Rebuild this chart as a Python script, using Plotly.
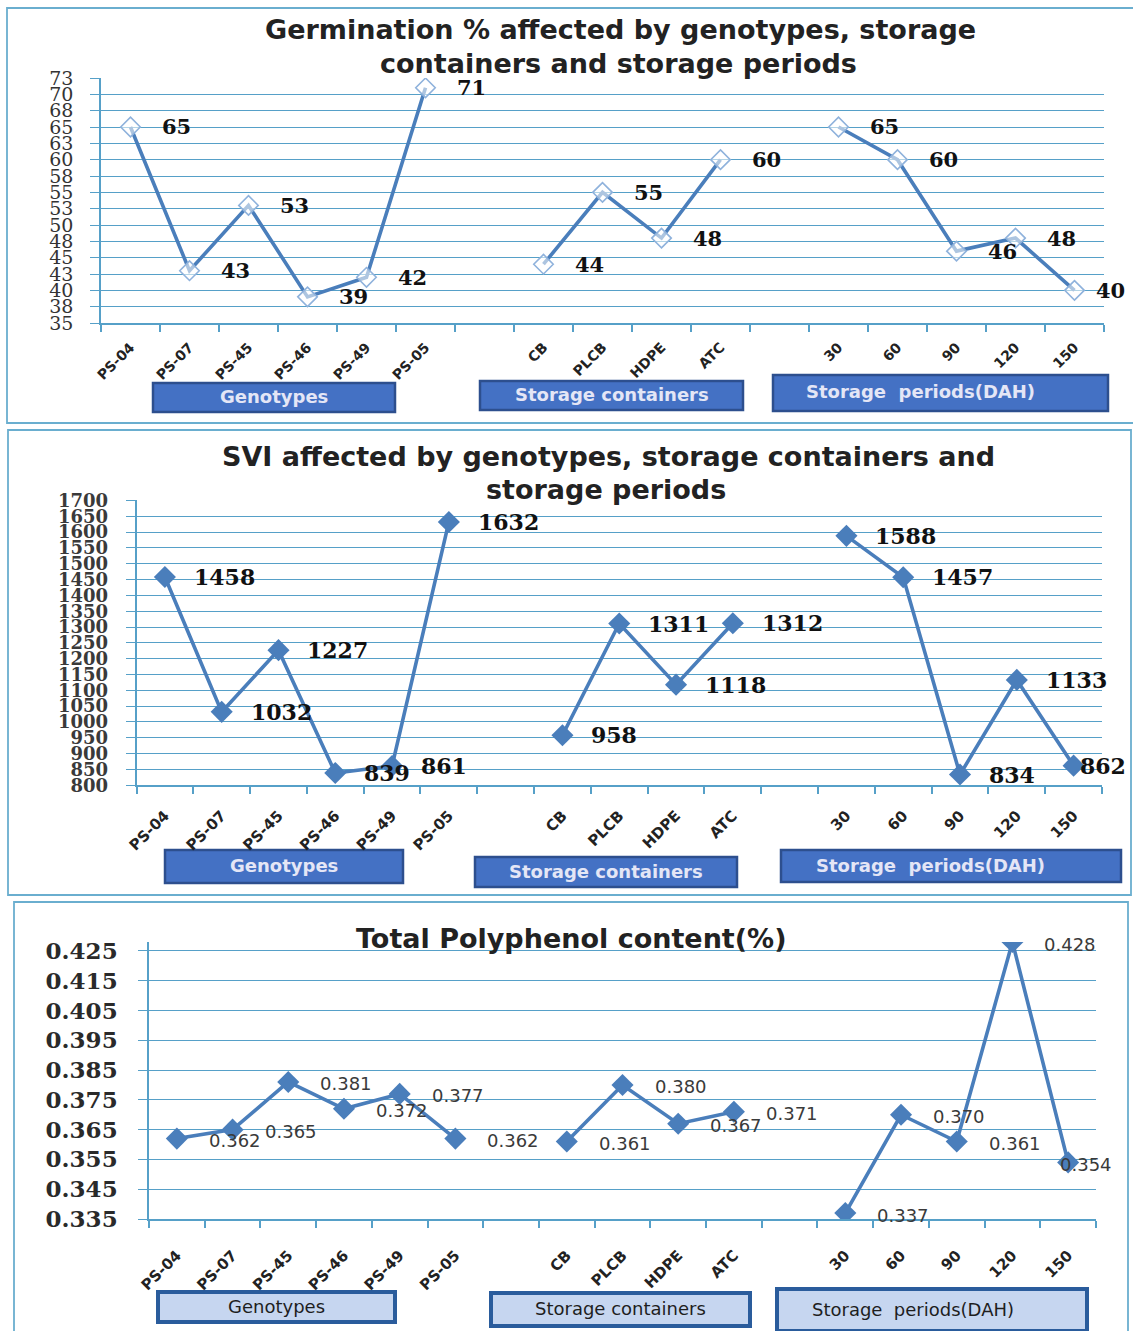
import plotly.graph_objects as go

W, H = 1133, 1331

# ---------------- data ----------------
genotypes = ["PS-04", "PS-07", "PS-45", "PS-46", "PS-49", "PS-05"]
containers = ["CB", "PLCB", "HDPE", "ATC"]
periods = ["30", "60", "90", "120", "150"]

germ_genotypes = [65, 43, 53, 39, 42, 71]
germ_containers = [44, 55, 48, 60]
germ_periods = [65, 60, 46, 48, 40]

svi_genotypes = [1458, 1032, 1227, 839, 861, 1632]
svi_containers = [958, 1311, 1118, 1312]
svi_periods = [1588, 1457, 834, 1133, 862]

tpc_genotypes = [0.362, 0.365, 0.381, 0.372, 0.377, 0.362]
tpc_containers = [0.361, 0.380, 0.367, 0.371]
tpc_periods = [0.337, 0.370, 0.361, 0.428, 0.354]

germ_tickvals = [35, 37.5, 40, 42.5, 45, 47.5, 50, 52.5, 55, 57.5, 60, 62.5, 65, 67.5, 70, 72.5]
germ_ticktext = ["35", "38", "40", "43", "45", "48", "50", "53", "55", "58", "60", "63", "65", "68", "70", "73"]
svi_tickvals = list(range(800, 1701, 50))
tpc_tickvals = [0.335, 0.345, 0.355, 0.365, 0.375, 0.385, 0.395, 0.405, 0.415, 0.425]
tpc_ticktext = ["0.335", "0.345", "0.355", "0.365", "0.375", "0.385", "0.395", "0.405", "0.415", "0.425"]

group_titles = ["Genotypes", "Storage containers", "Storage  periods(DAH)"]

# ---------------- helpers ----------------
def px(x):
    return x / W

def py(y):
    return 1 - y / H

cat_labels = genotypes + [""] + containers + [""] + periods
xs = list(range(len(cat_labels)))

def series(g, c, p):
    return list(g) + [None] + list(c) + [None] + list(p)

LINE = "#4a7ebb"
GRID = "#56a0c8"

fig = go.Figure()

panels = [
    dict(vals=series(germ_genotypes, germ_containers, germ_periods), fmt=lambda v: f"{v:.0f}",
         sfx="", marker=dict(symbol="diamond", size=15, color="rgba(255,255,255,0.55)",
                             line=dict(color="#8fb2dc", width=1.6))),
    dict(vals=series(svi_genotypes, svi_containers, svi_periods), fmt=lambda v: f"{v:.0f}",
         sfx="2", marker=dict(symbol="diamond", size=17, color=LINE, line=dict(width=0))),
    dict(vals=series(tpc_genotypes, tpc_containers, tpc_periods), fmt=lambda v: f"{v:.3f}",
         sfx="3", marker=dict(symbol="diamond", size=17, color=LINE, line=dict(width=0))),
]

label_font = [
    dict(family="DejaVu Serif", size=21, color="#111111", weight="bold"),
    dict(family="DejaVu Serif", size=22, color="#111111", weight="bold"),
    dict(family="DejaVu Sans", size=18, color="#3a3a3a"),
]
label_shift = [29, 27, 30]
label_dy = [0, 0, -2]
last_shift = [19, 4, -10]

annotations = []
for i, p in enumerate(panels):
    fig.add_trace(go.Scatter(
        x=xs, y=p["vals"], mode="lines+markers", connectgaps=False,
        line=dict(color=LINE, width=3.6), marker=p["marker"],
        xaxis="x" + p["sfx"], yaxis="y" + p["sfx"], showlegend=False, hoverinfo="skip"))
    n = len(p["vals"])
    for j, v in enumerate(p["vals"]):
        if v is None:
            continue
        annotations.append(dict(
            x=xs[j], y=v, xref="x" + p["sfx"], yref="y" + p["sfx"], text=p["fmt"](v),
            showarrow=False, xanchor="left", yanchor="middle",
            xshift=last_shift[i] if j == n - 1 else label_shift[i], yshift=label_dy[i],
            font=label_font[i]))

# axes layout (reference page pixels)
xdoms = [(101, 1104), (136.5, 1102), (149, 1096)]
ydoms = [(78, 323), (500.4, 785.3), (942, 1219)]
yranges = [[35, 72.5], [800, 1700], [0.335, 0.428]]
ytv = [germ_tickvals, svi_tickvals, tpc_tickvals]
ytt = [germ_ticktext, [str(v) for v in svi_tickvals], tpc_ticktext]
yfont = [
    dict(family="DejaVu Serif", size=19, color="#333333"),
    dict(family="DejaVu Serif", size=18, color="#3a3a3a", weight="bold"),
    dict(family="DejaVu Serif", size=23, color="#2a2a2a", weight="bold"),
]
ystand = [13, 14, 16]
xstand = [9, 14, 20]
xfont = [14, 15, 15]

layout_axes = {}
for i in range(3):
    s = "" if i == 0 else str(i + 1)
    layout_axes["xaxis" + s] = dict(
        domain=[px(xdoms[i][0]), px(xdoms[i][1])], anchor="y" + s, automargin=False,
        range=[-0.5, len(cat_labels) - 0.5], tickmode="array", tickvals=xs, ticktext=cat_labels,
        tickangle=-45, ticks="", showgrid=False, zeroline=False, showline=True,
        linecolor=GRID, linewidth=1.5, ticklabelstandoff=xstand[i],
        tickfont=dict(family="DejaVu Sans", size=xfont[i], color="#222222", weight="bold"),
        minor=dict(tickmode="array", tickvals=[k - 0.5 for k in range(len(cat_labels) + 1)],
                   ticks="outside", ticklen=7, tickcolor=GRID, tickwidth=1.5, showgrid=False),
        fixedrange=True)
    layout_axes["yaxis" + s] = dict(
        domain=[py(ydoms[i][1]), py(ydoms[i][0])], anchor="x" + s, automargin=False,
        range=yranges[i], tickmode="array", tickvals=ytv[i], ticktext=ytt[i],
        showgrid=True, gridcolor=GRID, gridwidth=1.2, zeroline=False,
        showline=True, linecolor=GRID, linewidth=1.5,
        ticks="outside", ticklen=9, tickcolor=GRID, tickwidth=1.2,
        ticklabelstandoff=ystand[i], tickfont=yfont[i], fixedrange=True)

# titles
title_font = dict(family="DejaVu Sans", size=27, color="#222222", weight="bold")
titles = [
    ("Germination % affected by genotypes, storage", 620, 30),
    ("containers and storage periods", 619, 63),
    ("SVI affected by genotypes, storage containers and", 608, 456),
    ("storage periods", 606, 489),
    ("Total Polyphenol content(%)", 571, 938),
]
for t, x, y in titles:
    annotations.append(dict(text=t, x=px(x), y=py(y), xref="paper", yref="paper",
                            showarrow=False, xanchor="center", yanchor="middle", font=title_font))

shapes = []
# panel borders
for (x0, y0, x1, y1) in [(7, 8, 1140, 423), (8, 430, 1131, 895), (14, 902, 1128, 1345)]:
    shapes.append(dict(type="rect", xref="paper", yref="paper", x0=px(x0), x1=px(x1),
                       y0=py(y1), y1=py(y0), line=dict(color="#6aaecf", width=1.8),
                       fillcolor="rgba(0,0,0,0)", layer="below"))

# group boxes
boxes = [
    [(153, 383, 395, 412), (480, 381, 743, 410), (773, 375, 1108, 411)],
    [(165, 850, 403, 883), (475, 857, 737, 887), (781, 850, 1121, 882)],
    [(158, 1292, 395, 1322), (491, 1293, 750, 1326), (777, 1289, 1087, 1331)],
]
for pi, row in enumerate(boxes):
    for bi, (x0, y0, x1, y1) in enumerate(row):
        if pi < 2:
            fill, edge, ew, tcol, tw = "#4471c4", "#2d4f8e", 2.5, "#e4e6f6", "bold"
        else:
            fill, edge, ew, tcol, tw = "#c6d6f0", "#2a5c9c", 4, "#1e1e1e", "normal"
        shapes.append(dict(type="rect", xref="paper", yref="paper", x0=px(x0), x1=px(x1),
                           y0=py(y1), y1=py(y0), line=dict(color=edge, width=ew),
                           fillcolor=fill, layer="below"))
        tx = (x0 + x1) / 2
        if bi == 2:
            tx = x0 + (x1 - x0) * 0.44
        annotations.append(dict(text=group_titles[bi], x=px(tx), y=py((y0 + y1) / 2 - 1),
                                xref="paper", yref="paper", showarrow=False,
                                xanchor="center", yanchor="middle",
                                font=dict(family="DejaVu Sans", size=18, color=tcol, weight=tw)))

fig.update_layout(
    width=W, height=H, margin=dict(l=0, r=0, t=0, b=0, pad=0, autoexpand=False),
    paper_bgcolor="white", plot_bgcolor="white",
    annotations=annotations, shapes=shapes, **layout_axes)

fig.write_html("out.html", config={"displayModeBar": False},
               post_script="document.body.style.margin='0';")
